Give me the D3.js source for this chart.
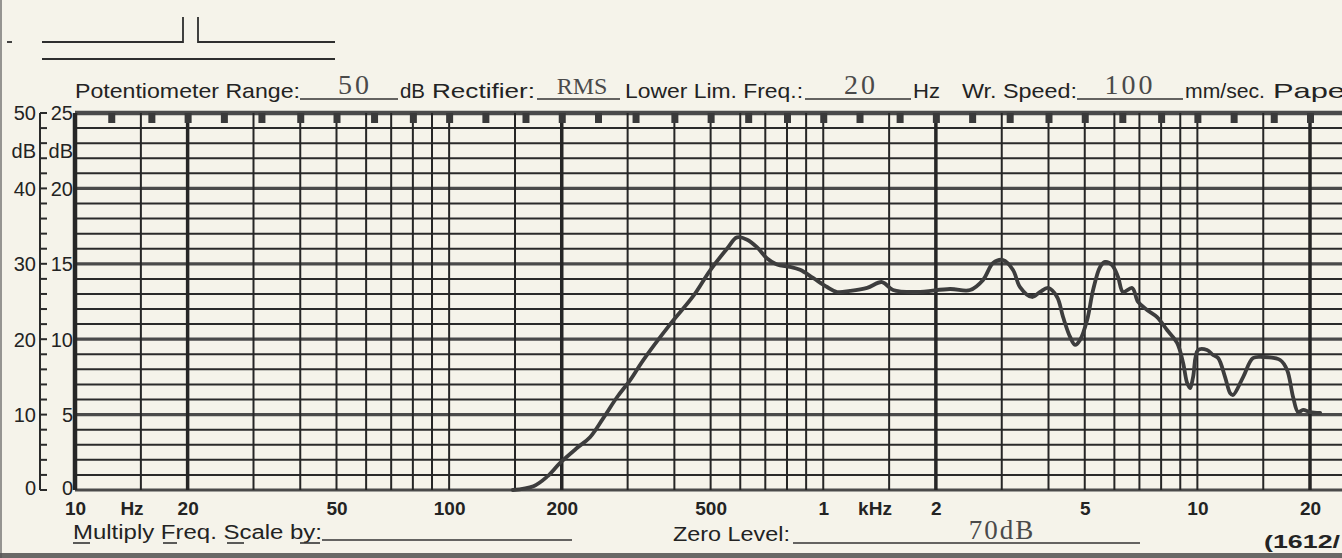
<!DOCTYPE html>
<html>
<head>
<meta charset="utf-8">
<title>Frequency response recording</title>
<script src="https://d3js.org/d3.v7.min.js"></script>
<style>
  html, body { margin: 0; padding: 0; background: #f5f3ea; }
  svg { display: block; }
  .sans { font-family: "Liberation Sans", Arial, sans-serif; fill: #232323; }
  .typed { font-family: "Liberation Serif", "Times New Roman", serif; fill: #4a4a4a; }
</style>
</head>
<body>
<div id="chart"></div>
<script>
// curve (frequency in Hz, level in dB on the 25 dB scale)
var freqHz = [148, 168, 183, 198, 220, 238, 258, 281, 305, 330, 390, 449, 498, 553, 588, 626, 665, 708, 752, 815,
  867, 939, 1024, 1089, 1179, 1310, 1436, 1537, 1781, 2183, 2469, 2674, 2844, 3024, 3216, 3357, 3614, 3797, 3990, 4217,
  4375, 4568, 4711, 4858, 5073, 5263, 5495, 5667, 5916, 6138, 6330, 6692, 6943, 7338, 7804, 8299, 8827, 9160, 9388, 9562,
  9739, 10043, 10614, 11015, 11362, 11859, 12232, 12459, 13251, 14088, 14982, 16640, 17371, 18023, 18589, 19172, 20013, 21284];
var levelDb = [0, 0.25, 0.9, 1.8, 2.8, 3.5, 4.75, 6.15, 7.3, 8.6, 11.0, 12.85, 14.55, 16.0, 16.75, 16.6, 16.1, 15.35, 14.95, 14.8,
  14.6, 14.06, 13.46, 13.13, 13.2, 13.4, 13.79, 13.26, 13.13, 13.33, 13.26, 13.93, 15.05, 15.25, 14.59, 13.46, 12.8, 13.13, 13.4, 12.8,
  11.47, 10.15, 9.62, 9.95, 11.27, 13.26, 14.79, 15.12, 14.92, 14.12, 13.13, 13.4, 12.47, 11.94, 11.47, 10.61, 9.75, 8.42, 7.1, 6.76,
  7.49, 9.28, 9.28, 8.95, 8.75, 7.49, 6.43, 6.3, 7.49, 8.75, 8.82, 8.62, 7.96, 6.17, 5.17, 5.31, 5.17, 5.11];

var xTickValues = [10, 20, 50, 100, 200, 500, 1000, 2000, 5000, 10000, 20000];
var xTickLabels = ["10", "20", "50", "100", "200", "500", "1", "2", "5", "10", "20"];
var gridSteps = [1, 1.5, 2, 3, 4, 5, 6, 7, 8, 9];
var thirdOctaves = [12.5, 16, 20, 25, 31.5, 40, 50, 63, 80, 100, 125, 160, 200, 250, 315, 400, 500, 630, 800,
  1000, 1250, 1600, 2000, 2500, 3150, 4000, 5000, 6300, 8000, 10000, 12500, 16000, 20000];
var dbLevels = [0, 5, 10, 15, 20, 25];
var leftLabels = ["0", "10", "20", "30", "40", "50"];
var rightLabels = ["0", "5", "10", "15", "20", "25"];

var headerLabels = ["Potentiometer Range:", "dB", "Rectifier:", "Lower Lim. Freq.:", "Hz", "Wr. Speed:", "mm/sec.", "Pape"];
var headerValues = ["50", "RMS", "20", "100"];

var W = 1342, H = 558;
var svg = d3.select("#chart").append("svg").attr("width", W).attr("height", H);

svg.append("rect").attr("width", W).attr("height", H).attr("fill", "#f5f3ea");

var x = d3.scaleLog().domain([10, 20000]).range([75, 1310]);
var y = d3.scaleLinear().domain([0, 25]).range([490, 113]);
var gridRight = W;

// vertical grid lines in every decade
var vLines = [];
[10, 100, 1000, 10000].forEach(function(dec) {
  gridSteps.forEach(function(k) {
    var f = dec * k;
    if (f >= 10 && f <= 20000) vLines.push(f);
  });
});
var majorF = [20, 200, 2000, 20000];

// horizontal grid every dB
var hLines = d3.range(0, 26);

svg.append("g").selectAll("line").data(hLines).enter().append("line")
  .attr("x1", x(10)).attr("x2", gridRight)
  .attr("y1", function(d) { return y(d); }).attr("y2", function(d) { return y(d); })
  .attr("stroke", function(d) { return d % 5 === 0 ? "#4a4a4a" : "#2a2a2a"; })
  .attr("stroke-width", function(d) { return d === 25 ? 4.5 : (d % 5 === 0 ? 3.2 : 2); });

svg.append("g").selectAll("line").data(vLines).enter().append("line")
  .attr("x1", function(d) { return x(d); }).attr("x2", function(d) { return x(d); })
  .attr("y1", y(25)).attr("y2", y(0))
  .attr("stroke", "#262626")
  .attr("stroke-width", function(d) { return d === 10 ? 4.5 : (majorF.indexOf(d) >= 0 ? 3.5 : 2); });

// third-octave markers under the top edge
svg.append("g").selectAll("rect").data(thirdOctaves).enter().append("rect")
  .attr("x", function(d) { return x(d) - 3; })
  .attr("y", y(25))
  .attr("width", 7).attr("height", 10)
  .attr("fill", "#3a3a3a");

// recorded curve
var line = d3.line()
  .x(function(d) { return x(d[0]); })
  .y(function(d) { return y(d[1]); })
  .curve(d3.curveCatmullRom.alpha(0.5));
var pts = freqHz.map(function(f, i) { return [f, levelDb[i]]; });
svg.append("path").datum(pts)
  .attr("d", line)
  .attr("fill", "none")
  .attr("stroke", "#3d3d3d")
  .attr("stroke-width", 3.8)
  .attr("stroke-linejoin", "round")
  .attr("stroke-linecap", "round");

// frequency labels
var xAxis = svg.append("g")
  .attr("transform", "translate(0,499)")
  .call(d3.axisBottom(x).tickValues(xTickValues).tickSize(0)
    .tickFormat(function(d, i) { return xTickLabels[i]; }));
xAxis.select(".domain").remove();
xAxis.selectAll("text")
  .attr("class", "sans")
  .attr("y", 0).attr("dy", "16px")
  .style("font-size", "19px").style("font-weight", "bold")
  .style("fill", "#232323");

svg.append("text").attr("class", "sans").attr("x", 132).attr("y", 515)
  .attr("text-anchor", "middle").style("font-size", "19px").style("font-weight", "bold").text("Hz");
svg.append("text").attr("class", "sans").attr("x", 875).attr("y", 515)
  .attr("text-anchor", "middle").style("font-size", "19px").style("font-weight", "bold").text("kHz");

// left dB ruler
var ruler = svg.append("g");
ruler.append("line").attr("x1", 40).attr("x2", 40).attr("y1", y(25)).attr("y2", y(0))
  .attr("stroke", "#2a2a2a").attr("stroke-width", 2);
ruler.selectAll("line.tk").data(hLines).enter().append("line").attr("class", "tk")
  .attr("x1", 40).attr("x2", 47)
  .attr("y1", function(d) { return y(d); }).attr("y2", function(d) { return y(d); })
  .attr("stroke", "#2a2a2a").attr("stroke-width", 2);

var gl = svg.append("g").attr("transform", "translate(36,0)")
  .call(d3.axisLeft(y).tickValues(dbLevels).tickSize(0)
    .tickFormat(function(d, i) { return leftLabels[i]; }));
gl.select(".domain").remove();
var gr = svg.append("g").attr("transform", "translate(73,0)")
  .call(d3.axisLeft(y).tickValues(dbLevels).tickSize(0)
    .tickFormat(function(d, i) { return rightLabels[i]; }));
gr.select(".domain").remove();
[gl, gr].forEach(function(g) {
  g.selectAll("text")
    .attr("x", 0).attr("dy", "0.34em")
    .attr("class", "sans").style("font-size", "20px").style("fill", "#232323");
});
gl.selectAll(".tick").filter(function(d) { return d === 0; }).select("text").attr("dy", "0.2em");
gr.selectAll(".tick").filter(function(d) { return d === 0; }).select("text").attr("dy", "0.2em");

svg.append("text").attr("class", "sans").attr("x", 36).attr("y", y(22.5) + 7)
  .attr("text-anchor", "end").style("font-size", "20px").text("dB");
svg.append("text").attr("class", "sans").attr("x", 73).attr("y", y(22.5) + 7)
  .attr("text-anchor", "end").style("font-size", "20px").text("dB");

// header
var headerX = [[75, 225], [400, 25], [432, 103], [625, 178], [913, 27], [962, 115], [1185, 80], [1273, 72]];
var headerG = svg.append("g");
headerG.selectAll("text").data(headerLabels).enter().append("text")
  .attr("class", "sans")
  .attr("x", function(d, i) { return headerX[i][0]; })
  .attr("y", 98)
  .attr("textLength", function(d, i) { return headerX[i][1]; })
  .attr("lengthAdjust", "spacingAndGlyphs")
  .style("font-size", "21px")
  .text(function(d) { return d; });

var blanks = [[300, 398], [537, 620], [805, 911], [1077, 1183]];
var valueCenter = [355, 582, 861, 1130];
headerG.selectAll("line").data(blanks).enter().append("line")
  .attr("x1", function(d) { return d[0]; }).attr("x2", function(d) { return d[1]; })
  .attr("y1", 99).attr("y2", 99).attr("stroke", "#333").attr("stroke-width", 1.6);
headerG.selectAll("text.val").data(headerValues).enter().append("text")
  .attr("class", "typed val")
  .attr("x", function(d, i) { return valueCenter[i]; })
  .attr("y", 94)
  .attr("text-anchor", "middle")
  .style("font-size", function(d) { return d === "RMS" ? "24px" : "28px"; })
  .style("letter-spacing", function(d) { return d === "RMS" ? "0px" : "3px"; })
  .text(function(d) { return d; });

// top-left title blanks
var deco = svg.append("g").attr("stroke", "#2e2e2e").attr("stroke-width", 1.8).attr("fill", "none");
deco.append("path").attr("d", "M42,42H183V17M198,17V42H335");
deco.append("path").attr("d", "M42,59H335");
deco.append("path").attr("d", "M7,42H12");

// footer
svg.append("text").attr("class", "sans").attr("x", 73).attr("y", 539)
  .attr("textLength", 249).attr("lengthAdjust", "spacingAndGlyphs")
  .style("font-size", "20px").text("Multiply Freq. Scale by:");
var foot = svg.append("g").attr("stroke", "#333").attr("stroke-width", 1.6);
[[73, 90], [163, 177], [227, 244], [300, 320]].forEach(function(s) {
  foot.append("line").attr("x1", s[0]).attr("x2", s[1]).attr("y1", 543).attr("y2", 543);
});
foot.append("line").attr("x1", 322).attr("x2", 572).attr("y1", 540).attr("y2", 540);
svg.append("text").attr("class", "sans").attr("x", 673).attr("y", 541)
  .attr("textLength", 117).attr("lengthAdjust", "spacingAndGlyphs")
  .style("font-size", "20px").text("Zero Level:");
foot.append("line").attr("x1", 793).attr("x2", 1140).attr("y1", 543).attr("y2", 543);
svg.append("text").attr("class", "typed").attr("x", 1002).attr("y", 539)
  .attr("text-anchor", "middle").style("letter-spacing", "2px")
  .style("font-size", "27px").text("70dB");
svg.append("text").attr("class", "sans").attr("x", 1264).attr("y", 548)
  .attr("textLength", 76).attr("lengthAdjust", "spacingAndGlyphs")
  .style("font-size", "19px").style("font-weight", "bold").text("(1612/");

// paper edges
svg.append("rect").attr("x", 0).attr("y", 553).attr("width", W).attr("height", 5).attr("fill", "#3a3a3a").attr("opacity", 0.75);
svg.append("rect").attr("x", 0).attr("y", 0).attr("width", 2).attr("height", H).attr("fill", "#555").attr("opacity", 0.6);
</script>
</body>
</html>
